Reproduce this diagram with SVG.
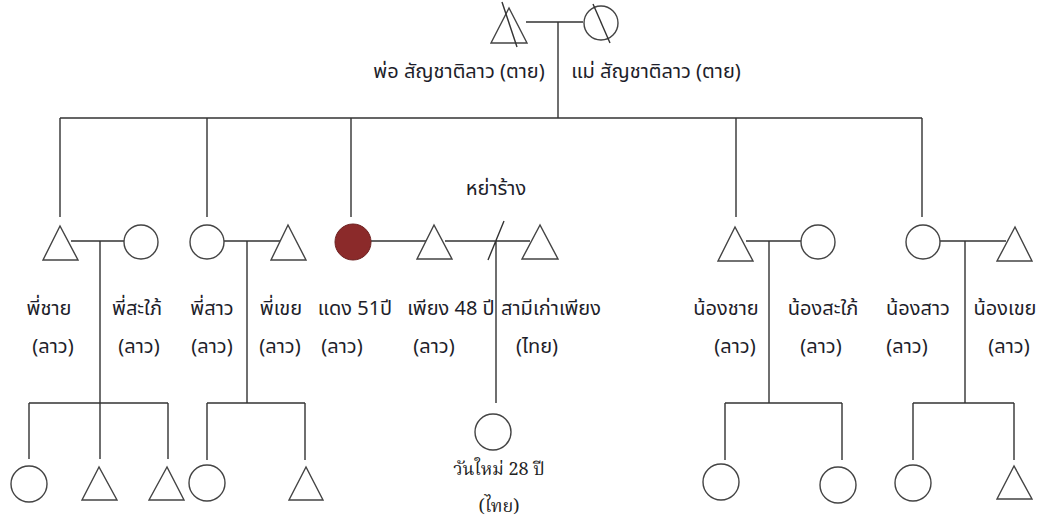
<svg xmlns="http://www.w3.org/2000/svg" width="1042" height="522" viewBox="0 0 1042 522">
<style>
.ln{stroke:#333;stroke-width:1.4;fill:none}
.sh{stroke:#444;stroke-width:1.4;fill:#fff}
.t{font-family:Tahoma,"Noto Sans Thai","Noto Sans","DejaVu Sans",sans-serif;font-size:20px;fill:#1e1e2a;text-anchor:middle}
.s{font-family:"Noto Serif Thai","Liberation Serif","Noto Sans Thai",serif;font-size:18px;fill:#222;text-anchor:middle}
</style>
<rect width="1042" height="522" fill="#fff"/>
<g id="connectors">
<path class="ln" d="M526 22H583 M558 22V118 M60 118H922 M60 118V217 M207 118V217 M351 118V217 M736 118V217 M922 118V217"/>
<path class="ln" d="M71 241H124 M100 241V459 M29 403H168 M29 403V459 M168 403V459"/>
<path class="ln" d="M224 241H280 M247 241V403 M207 403H305 M207 403V460 M305 403V460"/>
<path class="ln" d="M371 241H427 M445 241H530 M496 241V403 M504 221L488 260"/>
<path class="ln" d="M746 241H801 M769 241V403 M725 403H842 M725 403V460 M842 403V460"/>
<path class="ln" d="M940 241H1006 M965 241V403 M913 403H1014 M913 403V460 M1014 403V460"/>
</g>
<g id="father"><polygon class="sh" points="509,8 491,43 527,43"/><line class="ln" x1="502" y1="2" x2="517" y2="47"/><text class="t" x="459" y="78">พ่อ สัญชาติลาว (ตาย)</text></g>
<g id="mother"><circle class="sh" cx="601" cy="23" r="17"/><line class="ln" x1="593" y1="4" x2="610" y2="43"/><text class="t" x="656" y="78">แม่ สัญชาติลาว (ตาย)</text></g>
<g id="divorce"><text class="t" x="496" y="195">หย่าร้าง</text></g>
<g id="elder-brother"><polygon class="sh" points="60,226 43,260 78,260"/><text class="t" x="49" y="315">พี่ชาย</text><text class="t" x="53" y="353">(ลาว)</text></g>
<g id="elder-brother-wife"><circle class="sh" cx="141" cy="242" r="17"/><text class="t" x="137" y="315">พี่สะใภ้</text><text class="t" x="139" y="353">(ลาว)</text></g>
<g id="elder-sister"><circle class="sh" cx="207" cy="242" r="17"/><text class="t" x="212" y="315">พี่สาว</text><text class="t" x="212" y="353">(ลาว)</text></g>
<g id="elder-sister-husband"><polygon class="sh" points="288,225 271,260 306,260"/><text class="t" x="281" y="315">พี่เขย</text><text class="t" x="280" y="353">(ลาว)</text></g>
<g id="daeng"><circle cx="353" cy="242" r="18" fill="#8b2a2a" stroke="#6e2222" stroke-width="1"/><text class="t" x="355" y="315">แดง 51ปี</text><text class="t" x="342" y="353">(ลาว)</text></g>
<g id="phiang"><polygon class="sh" points="434,225 417,259 452,259"/><text class="t" x="451" y="315">เพียง 48 ปี</text><text class="t" x="434" y="353">(ลาว)</text></g>
<g id="ex-husband"><polygon class="sh" points="540,225 522,259 558,259"/><text class="t" x="551" y="315">สามีเก่าเพียง</text><text class="t" x="537" y="353">(ไทย)</text></g>
<g id="younger-brother"><polygon class="sh" points="735,227 718,261 753,261"/><text class="t" x="726" y="315">น้องชาย</text><text class="t" x="735" y="353">(ลาว)</text></g>
<g id="younger-brother-wife"><circle class="sh" cx="818" cy="242" r="17"/><text class="t" x="823" y="315">น้องสะใภ้</text><text class="t" x="821" y="353">(ลาว)</text></g>
<g id="younger-sister"><circle class="sh" cx="923" cy="242" r="17"/><text class="t" x="918" y="315">น้องสาว</text><text class="t" x="907" y="353">(ลาว)</text></g>
<g id="younger-sister-husband"><polygon class="sh" points="1015,227 997,261 1032,261"/><text class="t" x="1005" y="315">น้องเขย</text><text class="t" x="1009" y="353">(ลาว)</text></g>
<g id="wanmai"><circle class="sh" cx="493" cy="432" r="18"/><text class="s" x="499" y="475">วันใหม่ 28 ปี</text><text class="s" x="499" y="512">(ไทย)</text></g>
<g id="c1"><circle class="sh" cx="29" cy="484" r="18"/></g>
<g id="c2"><polygon class="sh" points="99,467 82,500 117,500"/></g>
<g id="c3"><polygon class="sh" points="167,467 149,500 184,500"/></g>
<g id="c4"><circle class="sh" cx="207" cy="483" r="18"/></g>
<g id="c5"><polygon class="sh" points="306,467 289,500 323,500"/></g>
<g id="c6"><circle class="sh" cx="721" cy="482" r="18"/></g>
<g id="c7"><circle class="sh" cx="838" cy="485" r="18"/></g>
<g id="c8"><circle class="sh" cx="913" cy="483" r="18"/></g>
<g id="c9"><polygon class="sh" points="1014,466 997,499 1032,499"/></g>
</svg>
